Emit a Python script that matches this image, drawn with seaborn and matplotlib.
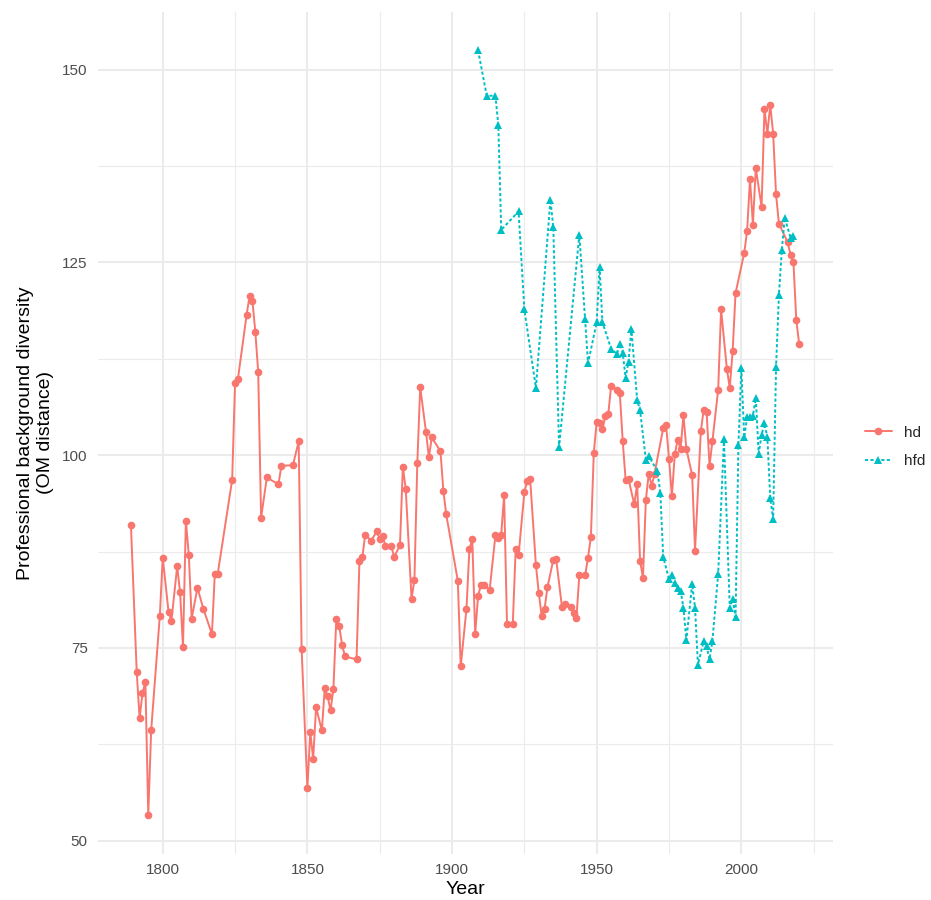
import numpy as np
import pandas as pd
import matplotlib
matplotlib.use("Agg")
import matplotlib.pyplot as plt
from matplotlib.lines import Line2D
from matplotlib.ticker import MultipleLocator
import seaborn as sns

# ---------------- data ----------------
hd_years = [1789, 1791, 1792, 1793, 1794, 1795, 1796, 1799, 1800, 1802, 1803, 1805, 1806, 1807,
            1808, 1809, 1810, 1812, 1814, 1817, 1818, 1819, 1824, 1825, 1826, 1829, 1830, 1831,
            1832, 1833, 1834, 1836, 1840, 1841, 1845, 1847, 1848, 1850, 1851, 1852, 1853, 1855,
            1856, 1857, 1858, 1859, 1860, 1861, 1862, 1863, 1867, 1868, 1869, 1870, 1872, 1874,
            1875, 1876, 1877, 1879, 1880, 1882, 1883, 1884, 1886, 1887, 1888, 1889, 1891, 1892,
            1893, 1896, 1897, 1898, 1902, 1903, 1905, 1906, 1907, 1908, 1909, 1910, 1911, 1913,
            1915, 1916, 1917, 1918, 1919, 1921, 1922, 1923, 1925, 1926, 1927, 1929, 1930, 1931,
            1932, 1933, 1935, 1936, 1938, 1939, 1941, 1942, 1943, 1944, 1946, 1947, 1948, 1949,
            1950, 1951, 1952, 1953, 1954, 1955, 1957, 1958, 1959, 1960, 1961, 1963, 1964, 1965,
            1966, 1967, 1968, 1969, 1970, 1973, 1974, 1975, 1976, 1977, 1978, 1979, 1980, 1981,
            1983, 1984, 1986, 1987, 1988, 1989, 1990, 1992, 1993, 1995, 1996, 1997, 1998, 2001,
            2002, 2003, 2004, 2005, 2007, 2008, 2009, 2010, 2011, 2012, 2013, 2016, 2017, 2018,
            2019, 2020]
hd_values = [91.0, 71.9, 65.9, 69.1, 70.6, 53.3, 64.3, 79.2, 86.7, 79.7, 78.5, 85.6, 82.2, 75.1,
             91.5, 87.1, 78.8, 82.8, 80.1, 76.8, 84.6, 84.6, 96.8, 109.4, 109.9, 118.2, 120.6, 120.0,
             116.0, 110.8, 91.9, 97.1, 96.2, 98.6, 98.7, 101.8, 74.9, 56.8, 64.1, 60.6, 67.3, 64.3,
             69.8, 68.7, 66.9, 69.7, 78.8, 77.8, 75.4, 73.9, 73.5, 86.3, 86.8, 89.7, 88.9, 90.1,
             89.1, 89.5, 88.2, 88.2, 86.8, 88.3, 98.5, 95.6, 81.4, 83.8, 99.0, 108.8, 103.0, 99.7,
             102.3, 100.5, 95.4, 92.3, 83.7, 72.6, 80.1, 87.8, 89.1, 76.8, 81.7, 83.2, 83.2, 82.5,
             89.6, 89.2, 89.7, 94.8, 78.1, 78.1, 87.8, 87.0, 95.2, 96.7, 96.9, 85.7, 82.1, 79.1,
             80.1, 82.9, 86.4, 86.5, 80.3, 80.7, 80.3, 79.5, 78.9, 84.4, 84.4, 86.7, 89.4, 100.3,
             104.3, 104.1, 103.4, 105.1, 105.3, 109.0, 108.5, 108.0, 101.8, 96.8, 96.9, 93.6, 96.3, 86.3,
             84.1, 94.2, 97.6, 96.0, 97.6, 103.5, 103.9, 99.5, 94.7, 100.1, 102.0, 100.8, 105.2, 100.8,
             97.4, 87.6, 103.1, 105.9, 105.6, 98.6, 101.8, 108.5, 118.9, 111.2, 108.7, 113.5, 121.0, 126.2,
             129.1, 135.8, 129.9, 137.2, 132.2, 144.9, 141.7, 145.4, 141.7, 133.8, 130.0, 127.6, 126.0, 125.1,
             117.5, 114.4]

hfd_years = [1909, 1912, 1915, 1916, 1917, 1923, 1925, 1929, 1934, 1935, 1937, 1944, 1946, 1947,
             1950, 1951, 1952, 1955, 1957, 1958, 1959, 1960, 1961, 1962, 1964, 1965, 1967, 1968,
             1971, 1972, 1973, 1975, 1976, 1977, 1978, 1979, 1980, 1981, 1983, 1984, 1985, 1987,
             1988, 1989, 1990, 1992, 1994, 1996, 1997, 1998, 1999, 2000, 2001, 2002, 2003, 2004,
             2005, 2006, 2007, 2008, 2009, 2010, 2011, 2012, 2013, 2014, 2015, 2017, 2018]
hfd_values = [152.5, 146.6, 146.6, 142.8, 129.2, 131.6, 118.9, 108.7, 133.1, 129.6, 101.0, 128.6, 117.6, 111.9,
              117.2, 124.4, 117.2, 113.8, 113.1, 114.4, 113.3, 110.0, 112.1, 116.4, 107.1, 105.8, 99.4, 99.9,
              97.9, 95.1, 86.8, 83.9, 84.5, 83.4, 82.8, 82.4, 80.2, 76.0, 83.3, 80.2, 72.8, 75.9,
              75.2, 73.5, 75.9, 84.6, 102.1, 80.2, 81.3, 79.0, 101.3, 111.3, 102.3, 104.9, 104.9, 105.1,
              107.4, 100.2, 102.6, 104.1, 102.3, 94.4, 91.7, 111.4, 120.8, 126.6, 130.8, 128.2, 128.4]

series_names = ["hd", "hfd"]
x_breaks = [1800, 1850, 1900, 1950, 2000]
y_breaks = [50, 75, 100, 125, 150]
x_title = "Year"
y_title = "Professional background diversity\n(OM distance)"

df = pd.concat([
    pd.DataFrame({"Year": hd_years, "value": hd_values, "series": "hd"}),
    pd.DataFrame({"Year": hfd_years, "value": hfd_values, "series": "hfd"}),
], ignore_index=True)

# ---------------- style ----------------
sns.set_theme(style="white")
plt.rcParams["font.family"] = ["Liberation Sans", "DejaVu Sans"]

colors = {"hd": "#F8766D", "hfd": "#00BFC4"}
markers = {"hd": "o", "hfd": "^"}
dot_dash = (1.6, 1.2)
dashes = {"hd": "", "hfd": dot_dash}

W, H = 931, 900
fig = plt.figure(figsize=(W / 100, H / 100), dpi=100)
left, right, top, bottom = 97.5, 832.6, 12.0, 853.5
ax = fig.add_axes([left / W, 1 - bottom / H, (right - left) / W, (bottom - top) / H])

sns.lineplot(data=df, x="Year", y="value", hue="series", style="series",
             palette=colors, markers=markers, dashes=dashes,
             linewidth=1.4, markersize=5.5, markeredgewidth=0,
             estimator=None, sort=True, legend=False, ax=ax)

# ggplot-like expansion
xmin, xmax = df["Year"].min(), df["Year"].max()
ymin, ymax = df["value"].min(), df["value"].max()
xr, yr = xmax - xmin, ymax - ymin
ax.set_xlim(xmin - 0.05 * xr, xmax + 0.05 * xr)
ax.set_ylim(ymin - 0.05 * yr, ymax + 0.05 * yr)

ax.set_xticks(x_breaks)
ax.set_yticks(y_breaks)
ax.xaxis.set_minor_locator(MultipleLocator(25))
ax.yaxis.set_minor_locator(MultipleLocator(12.5))
ax.grid(which="major", color="#EBEBEB", linewidth=1.5)
ax.grid(which="minor", color="#EBEBEB", linewidth=0.8)
ax.set_axisbelow(True)
for s in ax.spines.values():
    s.set_visible(False)
ax.tick_params(which="both", length=0)
ax.tick_params(axis="x", labelsize=11, labelcolor="#4D4D4D", pad=7)
ax.tick_params(axis="y", labelsize=11, labelcolor="#4D4D4D", pad=7)

ax.set_xlabel(x_title, fontsize=14, color="black", labelpad=3)
ax.set_ylabel(y_title, fontsize=14, color="black", labelpad=6, linespacing=1.25)

handles = [
    Line2D([], [], color=colors["hd"], lw=1.4, marker="o", markersize=5.5, markeredgewidth=0),
    Line2D([], [], color=colors["hfd"], lw=1.4, linestyle=(0, dot_dash), marker="^",
           markersize=5.5, markeredgewidth=0),
]
fig.legend(handles, series_names, loc="center left", bbox_to_anchor=(865 / W, 1 - 447 / H),
           frameon=False, fontsize=11, handlelength=1.75, handletextpad=0.8,
           labelspacing=0.95, borderpad=0, borderaxespad=0)

fig.savefig("out.png", dpi=100)
